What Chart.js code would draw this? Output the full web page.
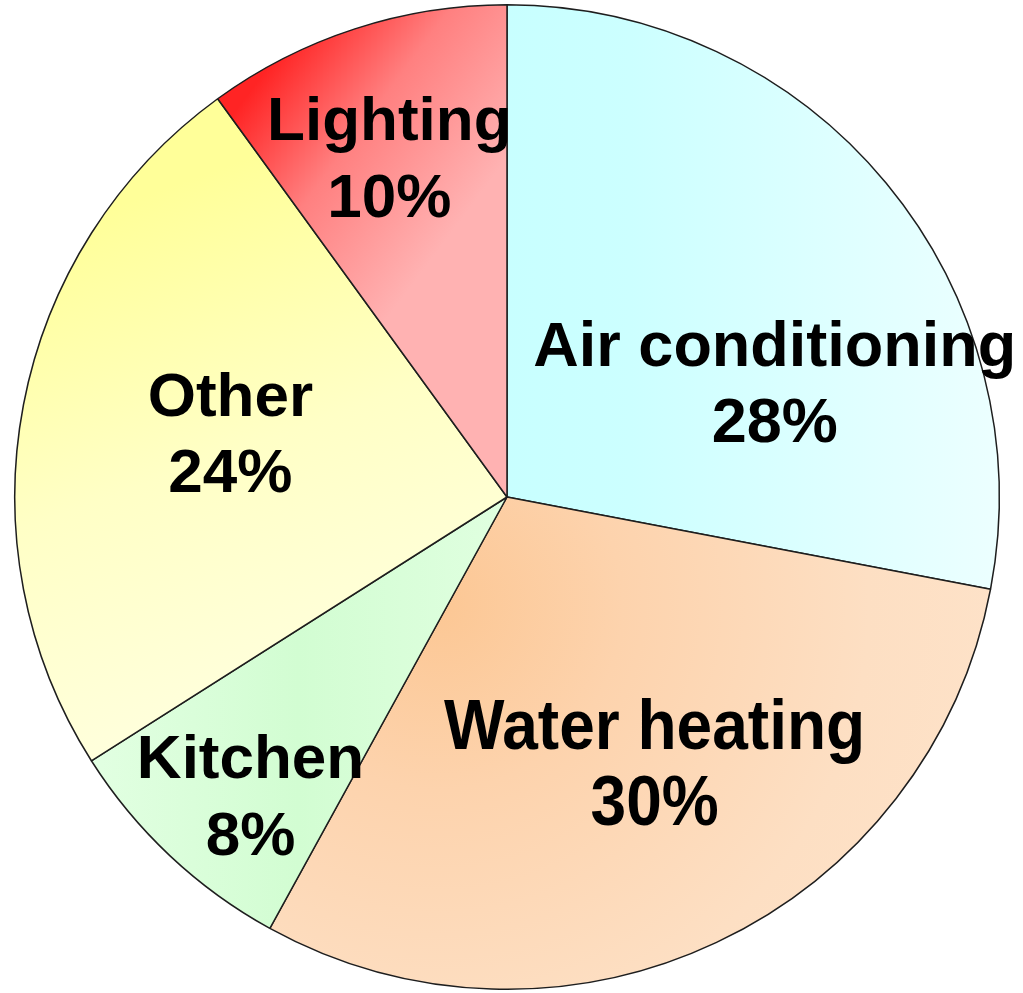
<!DOCTYPE html>
<html>
<head>
<meta charset="utf-8">
<script src="https://cdn.jsdelivr.net/npm/chart.js@4/dist/chart.umd.min.js"></script>
<style>
  html, body { margin: 0; padding: 0; background: #fff; }
  #pie { display: block; }
</style>
</head>
<body>
<canvas id="pie" width="1023" height="993"></canvas>
<script>
const categories = ["Air conditioning", "Water heating", "Kitchen", "Other", "Lighting"];
const shares = [28, 30, 8, 24, 10];

// where each label sits, in units of the radius from the pie centre, plus font tweaks
const labelPlace = [
    { dx: 0.544, dy: -0.235, size: 63, squeeze: 1.0 },
    { dx: 0.300, dy: 0.538, size: 70, squeeze: 0.915 },
    { dx: -0.521, dy: 0.604, size: 62, squeeze: 1.0 },
    { dx: -0.562, dy: -0.132, size: 62, squeeze: 1.0 },
    { dx: -0.239, dy: -0.692, size: 62, squeeze: 1.0 }
];

// gradient per slice: linear axis or radial centre, in radius units from centre
const sliceFills = [
    { from: [0.0, 0], to: [1.0, 0], stops: [[0, "#c8ffff"], [0.25, "#ccffff"], [1, "#ecffff"]] },
    { radial: [-0.14, 0.22], reach: 1.25, stops: [[0, "#fcc794"], [0.3, "#fdd3ad"], [0.7, "#fddfc3"], [1, "#fee3ca"]] },
    { from: [-0.85, 0], to: [0.0, 0], stops: [[0, "#e2ffe2"], [0.5, "#d2fdd2"], [1, "#e0ffe0"]] },
    { from: [-0.77, -0.6], to: [-0.35, 0.55], stops: [[0, "#ffff99"], [0.45, "#ffffc6"], [1, "#ffffe4"]] },
    { from: [-0.54, -0.8], to: [-0.14, -0.5], stops: [[0, "#ff2424"], [0.45, "#ff8080"], [1, "#ffb2b2"]] }
];

function fillFor(ctx) {
    const chart = ctx.chart;
    const arc = chart.getDatasetMeta(0).data[ctx.dataIndex];
    if (!arc || !arc.outerRadius) return "#ffffff";
    const f = sliceFills[ctx.dataIndex];
    const r = arc.outerRadius;
    let g;
    if (f.radial) {
        const gx = arc.x + f.radial[0] * r, gy = arc.y + f.radial[1] * r;
        g = chart.ctx.createRadialGradient(gx, gy, 0, gx, gy, f.reach * r);
    } else {
        g = chart.ctx.createLinearGradient(arc.x + f.from[0] * r, arc.y + f.from[1] * r, arc.x + f.to[0] * r, arc.y + f.to[1] * r);
    }
    f.stops.forEach(s => g.addColorStop(s[0], s[1]));
    return g;
}

const sliceLabels = {
    id: "sliceLabels",
    afterDatasetsDraw(chart) {
        const c = chart.ctx;
        const arcs = chart.getDatasetMeta(0).data;
        arcs.forEach((arc, i) => {
            const p = labelPlace[i];
            const r = arc.outerRadius;
            const cx = arc.x + p.dx * r;
            const cy = arc.y + p.dy * r;
            const gap = 0.155 * r;
            const lines = [categories[i], shares[i] + "%"];
            c.save();
            c.fillStyle = "#000";
            c.font = "bold " + p.size + "px 'Liberation Sans', Arial, sans-serif";
            c.textAlign = "center";
            c.textBaseline = "alphabetic";
            lines.forEach((t, k) => {
                const capMid = cy + (k === 0 ? -gap / 2 : gap / 2);
                c.save();
                c.translate(cx, capMid + 0.358 * p.size);
                c.scale(p.squeeze, 1);
                c.fillText(t, 0, 0);
                c.restore();
            });
            c.restore();
        });
    }
};

const chart = new Chart(document.getElementById("pie"), {
    type: "pie",
    data: {
        labels: categories,
        datasets: [{
            data: shares,
            backgroundColor: fillFor,
            borderColor: "#1e1e1e",
            borderWidth: 1.5
        }]
    },
    options: {
        responsive: false,
        animation: false,
        layout: { padding: { left: 14, right: 23, top: 4, bottom: 3 } },
        plugins: {
            legend: { display: false },
            tooltip: { enabled: false }
        }
    },
    plugins: [sliceLabels]
});
// second pass so the gradients can read the arc geometry
chart.update();
</script>
</body>
</html>
